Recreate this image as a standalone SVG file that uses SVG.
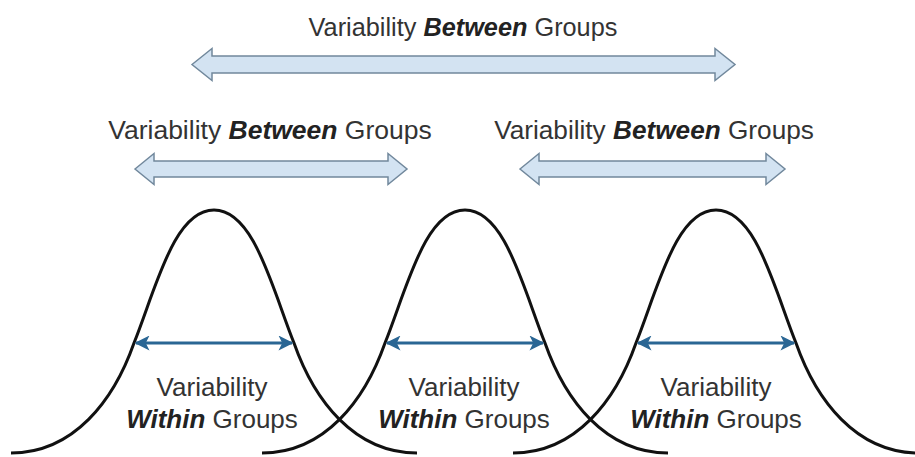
<svg xmlns="http://www.w3.org/2000/svg" width="915" height="457" viewBox="0 0 915 457">
<defs>
<style>
.lbl{font-family:"Liberation Sans",Arial,Helvetica,sans-serif;fill:#333;text-anchor:middle}
.bi{font-weight:bold;font-style:italic;fill:#222}
.bar{fill:#d3e3f2;stroke:#71889c;stroke-width:1.5;stroke-linejoin:miter}
.curve{fill:none;stroke:#111;stroke-width:3}
.within{stroke:#2a6694;stroke-width:3;fill:none;marker-start:url(#ah);marker-end:url(#ah)}
</style>
<marker id="ah" viewBox="0 0 10 10" refX="9" refY="5" markerWidth="6" markerHeight="5" orient="auto-start-reverse" markerUnits="strokeWidth">
<path d="M0,0 L10,5 L0,10 L2.5,5 Z" fill="#2a6694"/>
</marker>
<path id="bell" d="M-203,453 C-140,453 -100,400 -80,343 C-58,288 -40,210 0,210 C40,210 58,288 80,343 C100,400 140,453 203,453"/>
</defs>
<g id="between-top">
<path class="bar" d="M192,64.5 L212,48.5 L212,56 L715,56 L715,48.5 L735,64.5 L715,80.5 L715,73 L212,73 L212,80.5 Z"/>
<text class="lbl" x="463" y="36" font-size="25.3">Variability <tspan class="bi">Between</tspan> Groups</text>
</g>
<g id="between-left">
<path class="bar" d="M135,169 L154,153.5 L154,161 L388,161 L388,153.5 L407,169 L388,184.5 L388,177 L154,177 L154,184.5 Z"/>
<text class="lbl" x="270" y="139" font-size="26.5">Variability <tspan class="bi">Between</tspan> Groups</text>
</g>
<g id="between-right">
<path class="bar" d="M520,169 L539,153.5 L539,161 L766,161 L766,153.5 L785,169 L766,184.5 L766,177 L539,177 L539,184.5 Z"/>
<text class="lbl" x="654" y="139" font-size="26.2">Variability <tspan class="bi">Between</tspan> Groups</text>
</g>
<g id="group1">
<use href="#bell" class="curve" transform="translate(214,0)"/>
<text class="lbl" x="212" y="396" font-size="26">Variability</text>
<text class="lbl" x="212" y="428" font-size="26"><tspan class="bi">Within</tspan> Groups</text>
</g>
<g id="group2">
<use href="#bell" class="curve" transform="translate(465,0)"/>
<text class="lbl" x="464" y="396" font-size="26">Variability</text>
<text class="lbl" x="464" y="428" font-size="26"><tspan class="bi">Within</tspan> Groups</text>
</g>
<g id="group3">
<use href="#bell" class="curve" transform="translate(716,0)"/>
<text class="lbl" x="716" y="396" font-size="26">Variability</text>
<text class="lbl" x="716" y="428" font-size="26"><tspan class="bi">Within</tspan> Groups</text>
</g>
<g id="connectors">
<line class="within" x1="136" y1="343" x2="292" y2="343"/>
<line class="within" x1="387" y1="343" x2="543" y2="343"/>
<line class="within" x1="638" y1="343" x2="794" y2="343"/>
</g>
</svg>
